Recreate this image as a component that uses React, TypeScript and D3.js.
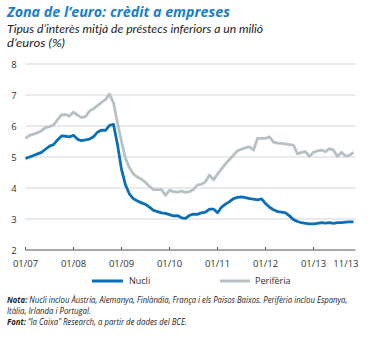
import React, { useLayoutEffect, useRef, useState } from "react";
import * as d3 from "d3";

const tickLabels = ["01/07", "01/08", "01/09", "01/10", "01/11", "01/12", "01/13"];
const tickMonths = [0, 12, 24, 36, 48, 60, 72];
const lastLabel = "11/13";
const yTicks = [2, 3, 4, 5, 6, 7, 8];

const nucli = [
  4.95, 5.0, 5.05, 5.1, 5.15, 5.25, 5.35, 5.4, 5.55, 5.68, 5.67, 5.65,
  5.7, 5.57, 5.53, 5.55, 5.58, 5.65, 5.8, 5.87, 5.86, 6.02, 6.05, 5.4,
  4.6, 4.1, 3.8, 3.65, 3.58, 3.52, 3.47, 3.38, 3.28, 3.24, 3.2, 3.18,
  3.14, 3.1, 3.11, 3.04, 3.02, 3.12, 3.16, 3.15, 3.2, 3.22, 3.32, 3.32,
  3.2, 3.38, 3.48, 3.56, 3.66, 3.7, 3.71, 3.69, 3.66, 3.64, 3.62, 3.65,
  3.5, 3.38, 3.3, 3.24, 3.22, 3.2, 3.1, 2.98, 2.92, 2.88, 2.86, 2.84,
  2.84, 2.86, 2.88, 2.87, 2.88, 2.86, 2.88, 2.88, 2.9, 2.91, 2.91,
];

const periferia = [
  5.6, 5.7, 5.74, 5.78, 5.85, 5.95, 5.98, 6.03, 6.2, 6.36, 6.37, 6.32,
  6.45, 6.35, 6.27, 6.3, 6.48, 6.56, 6.66, 6.76, 6.85, 7.03, 6.75, 6.1,
  5.5, 4.95, 4.65, 4.45, 4.35, 4.28, 4.18, 4.05, 3.95, 3.95, 3.95, 3.76,
  3.93, 3.88, 3.87, 3.9, 3.86, 3.88, 3.95, 4.1, 4.12, 4.2, 4.42, 4.26,
  4.45, 4.62, 4.78, 4.92, 5.06, 5.2, 5.25, 5.3, 5.33, 5.22, 5.6, 5.6,
  5.6, 5.65, 5.48, 5.45, 5.44, 5.42, 5.4, 5.38, 5.1, 5.15, 5.17, 5.02,
  5.15, 5.2, 5.22, 5.17, 5.27, 5.22, 5.02, 5.15, 5.03, 5.05, 5.15,
];

const BLUE = "#0b6fb8";
const GRAY = "#b7c1c5";
const TITLE_BLUE = "#1a7fc8";
const FONT = "'Open Sans', 'Noto Sans', sans-serif";
const SUB_FONT = "Lato, 'Open Sans', sans-serif";

function FitText({ x, y, width, children, ...rest }: any) {
  const ref = useRef<SVGTextElement>(null);
  const [s, setS] = useState(1);
  useLayoutEffect(() => {
    const measure = () => {
      if (ref.current) {
        const w = ref.current.getComputedTextLength();
        if (w > 0) setS(width / w);
      }
    };
    measure();
    if ((document as any).fonts && (document as any).fonts.ready) {
      (document as any).fonts.ready.then(measure);
    }
  }, [width]);
  return (
    <text ref={ref} transform={`translate(${x},${y}) scale(${s},1)`} {...rest}>
      {children}
    </text>
  );
}

export default function App() {
  const x = d3.scaleLinear().domain([0, 82.5]).range([25.5, 355.5]);
  const y = d3.scaleLinear().domain([2, 8]).range([250, 64]);
  const line = d3
    .line<number>()
    .x((_, i) => x(i))
    .y((d) => y(d))
    .curve(d3.curveLinear);

  return (
    <svg
      width={368}
      height={338}
      style={{ position: "absolute", left: 0, top: 0, background: "#fff" }}
      fontFamily={FONT}
    >
      <FitText x={7} y={17} width={223} fontSize={15} fontWeight="bold" fontStyle="italic" fill={TITLE_BLUE}>
        Zona de l’euro: crèdit a empreses
      </FitText>
      <FitText x={7} y={33} width={256} fontSize={11.5} fontFamily={SUB_FONT} fontStyle="italic" fill="#222">
        Tipus d’interès mitjà de préstecs inferiors a un milió
      </FitText>
      <FitText x={7} y={47} width={58} fontSize={11.5} fontFamily={SUB_FONT} fontStyle="italic" fill="#222">
        d’euros (%)
      </FitText>

      {yTicks.map((t) => (
        <g key={t}>
          {t > 2 && (
            <line x1={x(0)} x2={x(82.5)} y1={y(t)} y2={y(t)} stroke="#d4d4d4" strokeWidth={1} />
          )}
          <text x={14} y={y(t) + 3.5} fontSize={9.5} textAnchor="middle" fill="#333">
            {t}
          </text>
        </g>
      ))}

      <line x1={x(0)} x2={x(82.5)} y1={y(2)} y2={y(2)} stroke="#555" strokeWidth={1} />
      {tickMonths.map((m, i) => (
        <g key={m}>
          <line x1={x(m)} x2={x(m)} y1={y(2)} y2={y(2) - 3} stroke="#555" strokeWidth={1} />
          <text x={x(m)} y={267} fontSize={9.5} textAnchor="middle" fill="#333">
            {tickLabels[i]}
          </text>
        </g>
      ))}
      <text x={x(82) + 5} y={267} fontSize={9.5} textAnchor="end" fill="#333">
        {lastLabel}
      </text>

      <path d={line(periferia) ?? ""} fill="none" stroke={GRAY} strokeWidth={2.8} strokeLinejoin="round" />
      <path d={line(nucli) ?? ""} fill="none" stroke={BLUE} strokeWidth={2.8} strokeLinejoin="round" />

      <line x1={92} x2={123} y1={281} y2={281} stroke={BLUE} strokeWidth={3} />
      <text x={129} y={284} fontSize={9} fill="#333">Nucli</text>
      <line x1={220} x2={250} y1={281} y2={281} stroke={GRAY} strokeWidth={3} />
      <text x={255} y={284} fontSize={9} fill="#333">Perifèria</text>

      <FitText x={7} y={303} width={340} fontSize={8.5} fontStyle="italic" fill="#222">
        <tspan fontWeight="bold">Nota:</tspan> Nucli inclou Àustria, Alemanya, Finlàndia, França i els Països Baixos. Perifèria inclou Espanya,
      </FitText>
      <FitText x={7} y={314} width={84} fontSize={8.5} fontStyle="italic" fill="#222">
        Itàlia, Irlanda i Portugal.
      </FitText>
      <FitText x={7} y={325} width={180} fontSize={8.5} fontStyle="italic" fill="#222">
        <tspan fontWeight="bold">Font:</tspan> “la Caixa” Research, a partir de dades del BCE.
      </FitText>
    </svg>
  );
}
